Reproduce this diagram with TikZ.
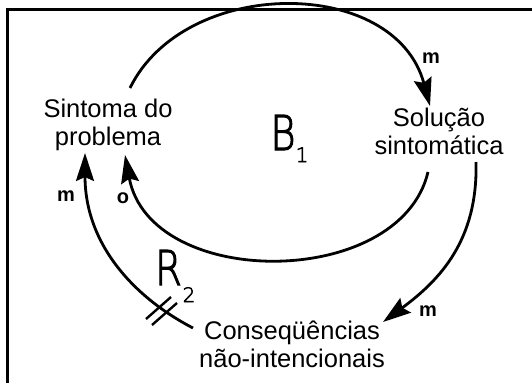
\documentclass[tikz,border=0pt]{standalone}
\usepackage{fontspec}
\setmainfont{Liberation Sans}
\newfontfamily\thinfont[FakeBold=2.5]{DejaVu Sans ExtraLight}
\usetikzlibrary{arrows.meta}
\begin{document}
\begin{tikzpicture}[x=1pt,y=-1pt,
  conn/.style={line width=2.8pt, -{Stealth[length=28pt,width=18pt,inset=4pt]}},
  hash/.style={line width=2.4pt},
  frame/.style={line width=2.6pt},
  lbl/.style={font=\fontsize{25.5}{28}\selectfont, align=center, inner sep=0pt},
  pol/.style={font=\bfseries\fontsize{20}{22}\selectfont, inner sep=0pt},
  loopname/.style={font=\thinfont\fontsize{48}{48}\selectfont, inner sep=0pt},
  loopsub/.style={font=\thinfont\fontsize{20}{20}\selectfont, inner sep=0pt}]
\useasboundingbox (0,0) rectangle (532,383);
\fill[white] (0,0) rectangle (532,383);
\draw[frame] (532,9.5) -- (7.3,9.5) -- (7.3,383);

% variables
\node[lbl] (sintoma) at (108,125) {Sintoma do\\problema};
\node[lbl] (solucao) at (439,131) {Solução\\sintomática};
\node[lbl] (conseq) at (292,344) {Conseqüências\\não-intencionais};

% loop names
\node[loopname, anchor=base] (B) at (283,150) {\scalebox{0.8}[1]{B}};
\node[loopsub, anchor=base] (Bsub) at (302,162) {1};
\node[loopname, anchor=base] (R) at (168.5,285) {\scalebox{0.8}[1]{R}};
\node[loopsub, anchor=base] (Rsub) at (189,302) {2};

% polarities
\node[pol] (m1) at (431,58) {m};
\node[pol] (m2) at (428,311) {m};
\node[pol] (m3) at (66,196) {m};
\node[pol] (o1) at (123,198) {o};

% connector end points
\coordinate (s1) at (130,88);
\coordinate (e1) at (430,106);
\coordinate (s2) at (428,172);
\coordinate (e2) at (125,155);
\coordinate (s3) at (476,162);
\coordinate (e3) at (383,322);
\coordinate (s4) at (193,328);
\coordinate (e4) at (85,153);

\draw[conn] (s1) .. controls (185,-24) and (395,-24) .. (e1);
\draw[conn] (s2) .. controls (400,290) and (150,290) .. (e2);
\draw[conn] (s3) .. controls (478,240) and (440,280) .. (e3);
\draw[conn] (s4) .. controls (135,298) and (85,245) .. (e4);

% delay marks
\draw[hash] (146,319) -- (171,297);
\draw[hash] (152,325) -- (177,303);
\end{tikzpicture}
\end{document}
